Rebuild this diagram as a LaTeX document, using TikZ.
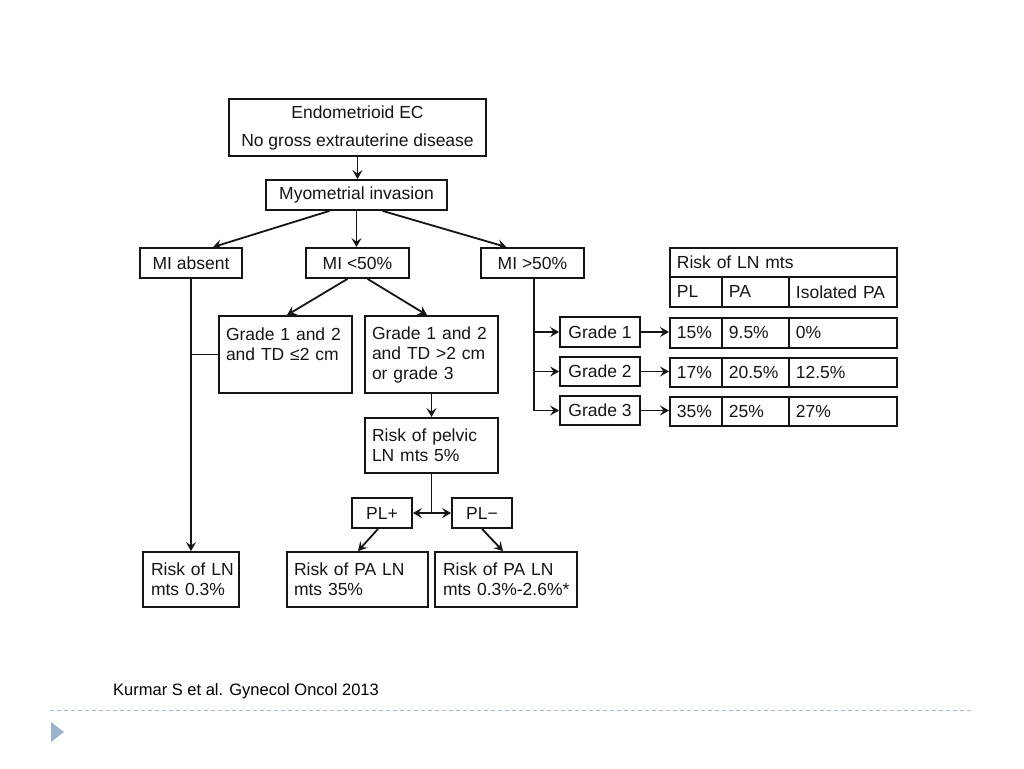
\documentclass[tikz,border=0pt]{standalone}
\usepackage{fontspec}
\setmainfont{Liberation Sans}
\usetikzlibrary{arrows.meta,calc}
\definecolor{ink}{HTML}{151515}
\definecolor{dashcol}{HTML}{A8BBCB}
\definecolor{tri}{HTML}{9DB3CB}
\begin{document}
\begin{tikzpicture}[x=1pt,y=-1pt,
  every node/.style={font=\fontsize{17.5pt}{20pt}\selectfont, text=ink},
  box/.style={draw=ink, line width=1.8pt, inner xsep=7pt, inner ysep=0pt, align=center},
  lbox/.style={draw=ink, line width=1.8pt, inner xsep=7pt, inner ysep=0pt, align=left},
  cell/.style={draw=ink, line width=1.8pt, inner xsep=7pt, inner ysep=0pt, align=left, anchor=north west},
  arr/.style={draw=ink, line width=1.8pt, -{Stealth[length=9pt,width=10pt,inset=3.5pt]}},
  ln/.style={draw=ink, line width=1.8pt}]
\useasboundingbox (0,0) rectangle (1024,768);

% main boxes
\node[box, minimum width=257pt, minimum height=57pt] (top) at (357.5,127.5)
  {Endometrioid EC\\[8pt]No gross extrauterine disease};
\node[box, minimum width=181pt, minimum height=30pt] (myo) at (356.5,195) {Myometrial invasion};
\node[box, minimum width=102pt, minimum height=30pt] (mia) at (191,263) {MI absent};
\node[box, minimum width=103pt, minimum height=30pt] (mil) at (357.5,263) {MI <50\%};
\node[box, minimum width=103pt, minimum height=30pt] (mig) at (532.5,263) {MI >50\%};

\node[lbox, text width=119pt, minimum height=77pt] (gl) at (285.5,354.5)
  {Grade 1 and 2\\and TD ≤2 cm\\\mbox{}};
\node[lbox, text width=119pt, minimum height=77pt] (gr) at (431.5,354.5)
  {Grade 1 and 2\\and TD >2 cm\\or grade 3};
\node[lbox, text width=119pt, minimum height=55pt] (pel) at (431.5,445.5)
  {Risk of pelvic\\LN mts 5\%};
\node[box, minimum width=60pt, minimum height=30pt, inner xsep=2pt] (plp) at (382,513) {PL+};
\node[box, minimum width=60pt, minimum height=30pt, inner xsep=2pt] (plm) at (482,513) {PL−};

\node[lbox, inner xsep=3pt, text width=90pt, minimum height=55pt] (rln) at (191,579.5)
  {\hspace*{5pt}Risk of LN\\\hspace*{5pt}mts 0.3\%};
\node[lbox, text width=127pt, minimum height=55pt] (rpa) at (357.5,579.5) {Risk of PA LN\\mts 35\%};
\node[lbox, inner xsep=4pt, text width=134pt, minimum height=55pt] (rpb) at (506,579.5)
  {\hspace*{4pt}Risk of PA LN\\\hspace*{4pt}mts 0.3\%-2.6\%*};

\node[box, minimum width=80pt, minimum height=30pt, inner xsep=2pt] (g1) at (600,332) {Grade 1};
\node[box, minimum width=80pt, minimum height=29pt, inner xsep=2pt] (g2) at (600,371.5) {Grade 2};
\node[box, minimum width=80pt, minimum height=29pt, inner xsep=2pt] (g3) at (600,410.5) {Grade 3};

% table
\node[cell, text width=213pt, minimum height=29pt] (th) at (669,247) {Risk of LN mts};
\node[cell, text width=38pt, minimum height=30pt] (hpl) at (669,276) {PL};
\node[cell, text width=53pt, minimum height=30pt] (hpa) at (721,276) {PA};
\node[cell, text width=94pt, minimum height=30pt] (hiso) at (788,276) {Isolated PA};

\node[cell, text width=38pt, minimum height=30pt] (r1a) at (669,317) {15\%};
\node[cell, text width=53pt, minimum height=30pt] (r1b) at (721,317) {9.5\%};
\node[cell, text width=94pt, minimum height=30pt] (r1c) at (788,317) {0\%};

\node[cell, text width=38pt, minimum height=29pt] (r2a) at (669,357) {17\%};
\node[cell, text width=53pt, minimum height=29pt] (r2b) at (721,357) {20.5\%};
\node[cell, text width=94pt, minimum height=29pt] (r2c) at (788,357) {12.5\%};

\node[cell, text width=38pt, minimum height=29pt] (r3a) at (669,396) {35\%};
\node[cell, text width=53pt, minimum height=29pt] (r3b) at (721,396) {25\%};
\node[cell, text width=94pt, minimum height=29pt] (r3c) at (788,396) {27\%};

% connectors
\draw[arr] (top.south) -- (top.south |- myo.north);
\draw[arr] ($(myo.south)+(-27,0)$) -- ($(mia.north)+(22,0)$);
\draw[arr] (myo.south) -- (myo.south |- mil.north);
\draw[arr] ($(myo.south)+(26,0)$) -- ($(mig.north)+(-26,0)$);

\draw[arr] ($(mil.south)+(-10,0)$) -- ($(gl.north)+(1.5,0)$);
\draw[arr] ($(mil.south)+(10,0)$) -- ($(gr.north)+(-4.5,0)$);

\draw[arr] (mia.south) -- (rln.north);
\draw[ln] (gl.west) -- (gl.west -| mia.south);

\draw[arr] (gr.south) -- (pel.north);
\coordinate (j) at (pel.south |- plp.east);
\draw[ln] (pel.south) -- (j);
\draw[arr] (j) -- (plp.east);
\draw[arr] (j) -- (plm.west);
\draw[arr] ($(plp.south)+(-4,0)$) -- ($(rpa.north)+(0.5,0)$);
\draw[arr] (plm.south) -- ($(rpb.north)+(-3,0)$);

\coordinate (v) at ($(mig.south)+(1.5,0)$);
\draw[arr] (v) |- (g3.west);
\draw[arr] (v |- g1.west) -- (g1.west);
\draw[arr] (v |- g2.west) -- (g2.west);
\draw[arr] (g1.east) -- (g1.east -| r1a.west);
\draw[arr] (g2.east) -- (g2.east -| r2a.west);
\draw[arr] (g3.east) -- (g3.east -| r3a.west);

% footer
\node[anchor=west, inner sep=0pt, font=\fontsize{16.5pt}{18pt}\selectfont, text=black] (ref) at (113,691)
  {Kurmar S et al. Gynecol Oncol 2013};
\draw[dashcol, line width=1pt, dash pattern=on 4pt off 3pt] (50,710) -- (973,710);
\fill[tri] (51,722) -- (64,732) -- (51,742) -- cycle;
\end{tikzpicture}
\end{document}
